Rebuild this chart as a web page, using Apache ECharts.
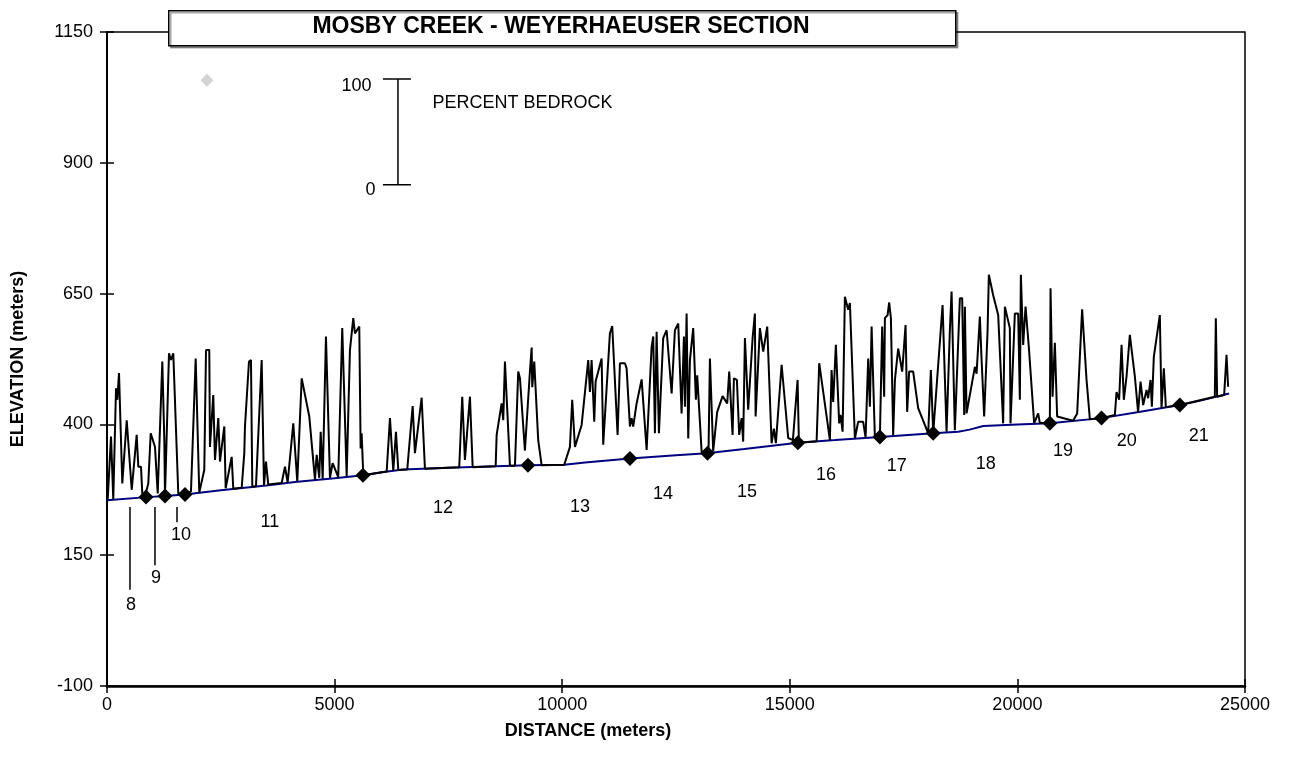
<!DOCTYPE html>
<html>
<head>
<meta charset="utf-8">
<script src="https://cdn.jsdelivr.net/npm/echarts@6/dist/echarts.min.js"></script>
<style>
html,body{margin:0;padding:0;background:#fff;}
#chart{width:1301px;height:770px;}
</style>
</head>
<body>
<div id="chart"></div>
<script>
// ---- DATA ----
const titleText = 'MOSBY CREEK - WEYERHAEUSER SECTION';
const xTitle = 'DISTANCE (meters)';
const yTitle = 'ELEVATION (meters)';
const xMin = 0, xMax = 25000, xStep = 5000;
const yMin = -100, yMax = 1150, yStep = 250;

// channel bed elevation (blue line)
const bedDistance = [0,880,1274,1713,2500,3500,4130,5000,5630,6000,6500,7500,8195,9250,10045,10500,11490,12500,13175,14000,15180,16000,16980,18150,18700,18950,19250,20000,20715,21850,22700,23570,24000,24650];
const bedElevation = [255,261,263,266,274,283,290,297,303,308,314,317,319,322,323,327,335,341,345,353,365,370,376,383,386,390,397,400,402,412,424,437,445,459];

// percent bedrock profile (black line), plotted as elevation
const profileDistance = [15,88,138,198,226,264,301,336,433,543,652,688,747,775,835,907,960,1054,1114,1215,1259,1274,1362,1406,1456,1566,1713,1845,1948,2027,2137,2175,2247,2262,2335,2372,2445,2482,2577,2607,2739,2774,2959,3016,3031,3119,3163,3192,3273,3398,3449,3492,3543,3837,3910,3969,4092,4180,4277,4444,4569,4606,4663,4694,4738,4810,4898,4957,5080,5168,5265,5337,5410,5447,5542,5572,5594,5630,
6144,6216,6289,6348,6399,6596,6715,6765,6912,6985,7738,7804,7863,7973,8033,8538,8560,8669,8705,8742,8852,8962,9034,9072,9181,9291,9329,9342,9386,9473,9548,10045,10170,10220,10280,10427,10572,10609,10646,10704,10734,10866,10901,11048,11099,11217,11268,11378,11415,11488,11525,11560,11635,11745,11855,11964,12000,12037,12074,12125,12219,12294,12404,12476,12549,12571,
12623,12674,12696,12733,12769,12806,12878,12937,12966,13063,13172,13216,13245,13317,13405,13524,13625,13669,13743,13772,13838,13888,13941,13976,14014,14086,14183,14233,14249,14343,14416,14504,14600,14650,14694,14820,14965,15068,15171,15200,15589,15646,15881,15918,15953,16012,16085,16116,16160,16210,16283,16320,
16430,16502,16612,16665,16722,16759,16797,16869,16979,17029,17073,17089,17148,17183,17221,17271,17309,17381,17469,17543,17578,17622,17710,17820,17908,18040,18099,18150,18356,18444,18516,18554,18626,18736,18787,18831,18846,18883,19066,19103,19175,19212,19270,19344,19373,19468,19578,19687,19725,19834,19849,19944,20017,20054,20076,20127,20179,20251,20368,
20456,20493,20713,20728,20772,20823,20873,21225,21313,21422,21519,21592,21848,22141,22178,22235,22288,22338,22398,22470,22580,22652,22705,22763,22837,22872,22925,22954,22997,23129,23166,23217,23261,23568,24337,24359,24388,24542,24594,24629];
const profileElevation = [256,377,257,469,447,498,389,287,408,275,380,319,319,268,262,287,383,357,268,520,370,263,536,523,536,268,266,272,526,270,313,542,542,357,456,332,412,329,396,278,338,277,279,345,396,520,523,281,282,523,283,329,285,288,319,289,402,291,488,415,294,342,298,386,296,568,298,326,299,584,301,542,603,574,587,354,383,303,
310,412,311,386,313,314,435,345,451,315,318,453,332,453,318,320,380,440,408,520,321,321,501,488,350,501,547,471,520,370,322,323,357,447,357,399,523,462,523,405,482,526,361,574,588,380,517,517,507,396,412,396,440,486,351,548,568,383,577,383,565,580,459,580,593,590,
421,568,434,612,373,523,584,447,494,348,345,357,526,349,424,454,440,501,380,488,485,380,412,367,565,428,565,612,415,584,539,587,364,392,364,514,374,370,485,365,368,517,370,504,443,552,402,418,386,644,619,632,
373,405,405,375,526,434,587,376,376,587,453,603,609,633,603,380,485,545,501,590,424,501,501,431,412,383,504,383,628,386,580,654,389,641,641,418,625,421,510,497,606,526,415,577,686,647,609,402,625,584,402,612,612,447,686,552,625,548,402,
421,403,402,660,453,556,415,407,421,620,485,410,412,418,462,447,552,447,492,571,492,423,482,437,466,450,485,434,529,609,431,507,433,437,453,603,453,456,533,472];

// reach boundaries (black diamonds on the bed)
const reachDistance = [857,1274,1713,5623,9247,11488,13194,15178,16979,18150,20713,21848,23568];
const reachElevation = [261,263,266,303,322,335,345,365,376,383,402,412,437];

// reach number labels
const reachNames = ['8','9','10','11','12','13','14','15','16','17','18','19','20','21'];
const reachLabelDistance = [527,1076,1625,3580,7380,10390,12212,14058,15793,17352,19307,21000,22404,23985];
const reachLabelElevation = [55,106,189,213,240,242,267,271,303,320,324,349,368,378];

// leader lines for reaches 8, 9, 10
const leaderDistance = [505,1054,1538];
const leaderTop = [242,242,242];
const leaderBottom = [84,131,213];

// percent bedrock scale bar
const scaleBarDistance = 6392, scaleTickLeft = 6062, scaleTickRight = 6677;
const scaleTop = 1060, scaleBottom = 858;
const scaleLabels = ['100','0'];
const scaleLabelDistance = [5821,5909];
const scaleLabelElevation = [1047,848];
const scaleName = 'PERCENT BEDROCK';
const scaleNamePos = [7139,1014];

// grey legend marker
const legendMarker = [2196,1058];

// ---- CHART ----
const FONT = 'Liberation Sans, Arial, sans-serif';
const zip = (a,b) => a.map((v,i)=>[v,b[i]]);
const chart = echarts.init(document.getElementById('chart'), null, {renderer:'canvas'});

const textPoint = {symbolSize:1, itemStyle:{color:'rgba(0,0,0,0)', opacity:1}, silent:true, z:6};
const series = [];
series.push({type:'line', data: zip(bedDistance,bedElevation), symbol:'none', lineStyle:{color:'#000080', width:2}, z:2, silent:true});
series.push({type:'line', data: zip(profileDistance,profileElevation), symbol:'none', lineStyle:{color:'#000', width:2}, z:3, silent:true});
series.push({type:'scatter', data: zip(reachDistance,reachElevation), symbol:'diamond', symbolSize:15, itemStyle:{color:'#000', opacity:1}, z:5, silent:true});
series.push({type:'scatter', data:[legendMarker], symbol:'diamond', symbolSize:13, itemStyle:{color:'#d4d4d4', opacity:1}, z:5, silent:true});
series.push(Object.assign({type:'scatter', data: reachNames.map((n,i)=>({name:n, value:[reachLabelDistance[i], reachLabelElevation[i]]})),
  label:{show:true, position:'inside', formatter:p=>p.name, color:'#000', fontSize:18, fontFamily:FONT}}, textPoint));
leaderDistance.forEach((d,i)=>{
  series.push({type:'line', data:[[d,leaderTop[i]],[d,leaderBottom[i]]], symbol:'none', lineStyle:{color:'#000', width:1.5}, silent:true, z:4});
});
series.push({type:'line', data:[[scaleTickLeft,scaleTop],[scaleTickRight,scaleTop]], symbol:'none', lineStyle:{color:'#000', width:1.5}, silent:true});
series.push({type:'line', data:[[scaleBarDistance,scaleTop],[scaleBarDistance,scaleBottom]], symbol:'none', lineStyle:{color:'#000', width:1.5}, silent:true});
series.push({type:'line', data:[[scaleTickLeft,scaleBottom],[scaleTickRight,scaleBottom]], symbol:'none', lineStyle:{color:'#000', width:1.5}, silent:true});
series.push(Object.assign({type:'scatter', data: scaleLabels.map((n,i)=>({name:n, value:[scaleLabelDistance[i], scaleLabelElevation[i]]})),
  label:{show:true, position:'left', distance:0, formatter:p=>p.name, color:'#000', fontSize:18, fontFamily:FONT}}, textPoint));
series.push(Object.assign({type:'scatter', data:[{name:scaleName, value:scaleNamePos}],
  label:{show:true, position:'right', distance:0, formatter:p=>p.name, color:'#000', fontSize:18, fontFamily:FONT}}, textPoint));

const axisLabel = {color:'#000', fontSize:18, fontFamily:FONT, formatter:v=>String(v)};
const option = {
  animation:false,
  backgroundColor:'#fff',
  grid:{left:107, right:56, top:32, bottom:84, show:true, borderColor:'#000', borderWidth:1.5, backgroundColor:'transparent'},
  xAxis:[
    {type:'value', min:xMin, max:xMax, interval:xStep, position:'bottom',
     name:xTitle, nameLocation:'middle', nameGap:36,
     nameTextStyle:{color:'#000', fontSize:18, fontWeight:'bold', fontFamily:FONT, padding:[0,176,0,0]},
     axisLine:{show:true, onZero:false, lineStyle:{color:'#000', width:2.5}},
     axisTick:{show:true, length:7, lineStyle:{color:'#000', width:1.5}},
     axisLabel:Object.assign({margin:10}, axisLabel),
     splitLine:{show:false}},
    {type:'value', min:xMin, max:xMax, interval:xStep, position:'bottom', gridIndex:0,
     axisLine:{show:false, onZero:false}, axisTick:{show:true, inside:true, length:7, lineStyle:{color:'#000', width:1.5}},
     axisLabel:{show:false}, splitLine:{show:false}}
  ],
  yAxis:[
    {type:'value', min:yMin, max:yMax, interval:yStep, position:'left',
     name:yTitle, nameLocation:'middle', nameGap:80,
     nameTextStyle:{color:'#000', fontSize:18, fontWeight:'bold', fontFamily:FONT},
     axisLine:{show:true, onZero:false, lineStyle:{color:'#000', width:2}},
     axisTick:{show:true, length:7, lineStyle:{color:'#000', width:1.5}},
     axisLabel:Object.assign({margin:14}, axisLabel),
     splitLine:{show:false}},
    {type:'value', min:yMin, max:yMax, interval:yStep, position:'left', offset:0,
     axisLine:{show:false, onZero:false}, axisTick:{show:true, inside:true, length:7, lineStyle:{color:'#000', width:1.5}},
     axisLabel:{show:false}, splitLine:{show:false}}
  ],
  graphic:[
    {type:'rect', left:168, top:10, shape:{width:787, height:35}, z:100,
     style:{fill:'#fff', stroke:'#000', lineWidth:1.5, shadowColor:'rgba(0,0,0,0.35)', shadowOffsetX:2, shadowOffsetY:2, shadowBlur:0}},
    {type:'text', x:561, y:27, z:101,
     style:{text:titleText, fill:'#000', font:'bold 23px '+FONT, textAlign:'center', textVerticalAlign:'middle'}}
  ],
  series: series.map(s=>Object.assign({xAxisIndex:0, yAxisIndex:0}, s))
};
chart.setOption(option);
</script>
</body>
</html>
